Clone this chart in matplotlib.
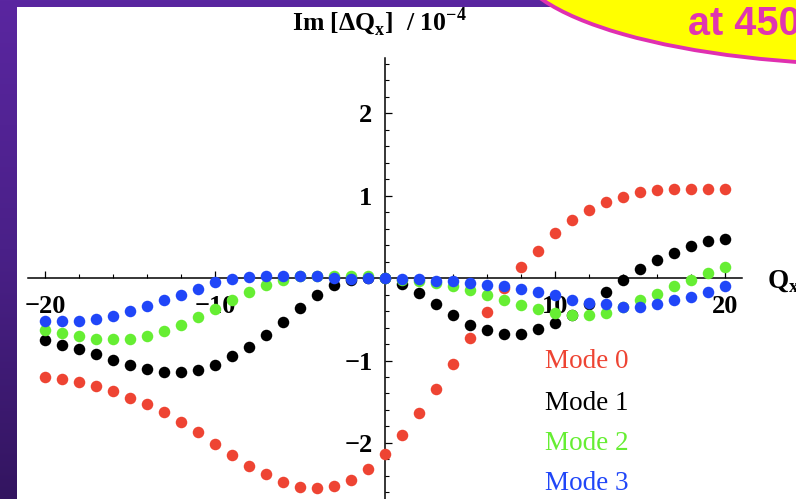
import numpy as np
import matplotlib
matplotlib.use("Agg")
import matplotlib.pyplot as plt
from matplotlib.patches import Rectangle, Ellipse
from matplotlib.colors import LinearSegmentedColormap
from matplotlib.ticker import MultipleLocator, FixedLocator

# ---- data ----
qx = list(range(-20, 21))
mode0 = [-1.20, -1.22, -1.26, -1.31, -1.37, -1.45, -1.53, -1.63, -1.75, -1.87, -2.01,
         -2.15, -2.28, -2.38, -2.47, -2.53, -2.55, -2.52, -2.45, -2.32, -2.13,
         -1.90, -1.64, -1.35, -1.04, -0.73, -0.41, -0.12, 0.13, 0.33, 0.55,
         0.70, 0.82, 0.92, 0.98, 1.04, 1.07, 1.08, 1.08, 1.08, 1.08]
mode1 = [-0.75, -0.81, -0.86, -0.92, -0.99, -1.05, -1.10, -1.14, -1.14, -1.11, -1.05,
         -0.95, -0.83, -0.69, -0.53, -0.36, -0.21, -0.08, -0.02, 0.00, 0.00,
         -0.07, -0.18, -0.32, -0.45, -0.57, -0.63, -0.68, -0.68, -0.62, -0.55,
         -0.45, -0.32, -0.17, -0.02, 0.11, 0.22, 0.30, 0.39, 0.45, 0.48]
mode2 = [-0.63, -0.67, -0.70, -0.74, -0.74, -0.74, -0.70, -0.64, -0.57, -0.47, -0.37,
         -0.27, -0.17, -0.08, -0.02, 0.02, 0.02, 0.03, 0.03, 0.02, 0.00,
         -0.02, -0.04, -0.06, -0.10, -0.14, -0.21, -0.26, -0.33, -0.38, -0.42,
         -0.45, -0.45, -0.42, -0.35, -0.27, -0.19, -0.09, -0.02, 0.06, 0.14]
mode3 = [-0.52, -0.52, -0.52, -0.50, -0.46, -0.40, -0.34, -0.27, -0.21, -0.13, -0.05,
         -0.01, 0.01, 0.02, 0.02, 0.02, 0.02, 0.00, -0.01, 0.00, 0.00,
         -0.01, -0.01, -0.03, -0.04, -0.06, -0.08, -0.10, -0.13, -0.17, -0.21,
         -0.27, -0.30, -0.31, -0.35, -0.35, -0.32, -0.27, -0.23, -0.17, -0.10]
series = [mode0, mode1, mode2, mode3]
labels = ["Mode 0", "Mode 1", "Mode 2", "Mode 3"]
colors = ["#EE4433", "#000000", "#66EE33", "#2046F8"]
xticks = [-20, -10, 10, 20]
yticks = [-2, -1, 1, 2]

W, H = 796, 499
fig = plt.figure(figsize=(W / 100, H / 100), dpi=100)
fig.patch.set_facecolor("white")

def fx(px):
    return px / W

def fy(py):  # py measured from top
    return (H - py) / H

# ---- background: purple gradient frame ----
bg = fig.add_axes([0, 0, 1, 1], zorder=-10)
cmap = LinearSegmentedColormap.from_list("pur", ["#5A26A0", "#4A2088", "#331560"])
grad = np.linspace(0, 1, 256).reshape(-1, 1)
bg.imshow(grad, aspect="auto", cmap=cmap, extent=[0, 1, 0, 1], origin="upper")
bg.set_xlim(0, 1)
bg.set_ylim(0, 1)
bg.axis("off")
bg.add_patch(Rectangle((fx(17), 0), 1 - fx(17), fy(7), facecolor="white",
                       edgecolor="none", transform=bg.transAxes))

# ---- main axes ----
ax = fig.add_axes([fx(28), 0, fx(742) - fx(28), fy(58)])
ax.patch.set_alpha(0)
ax.set_xlim(-21, 21)
ax.set_ylim(-2.68, 2.67)

for s in ["top", "right"]:
    ax.spines[s].set_visible(False)
ax.spines["left"].set_position(("data", 0))
ax.spines["bottom"].set_position(("data", 0))
for s in ["left", "bottom"]:
    ax.spines[s].set_linewidth(1.1)
    ax.spines[s].set_color("black")

ax.xaxis.set_major_locator(FixedLocator(xticks))
ax.xaxis.set_minor_locator(MultipleLocator(2))
ax.yaxis.set_major_locator(FixedLocator(yticks))
ax.yaxis.set_minor_locator(MultipleLocator(0.2))
ax.set_xticklabels(["\u2212" + str(abs(t)) if t < 0 else str(t) for t in xticks])
ax.set_yticklabels(["\u2212" + str(abs(t)) if t < 0 else str(t) for t in yticks])
ax.tick_params(axis="both", which="major", direction="in", length=5, width=0.9,
               labelsize=19)
ax.tick_params(axis="both", which="minor", direction="in", length=3.2, width=0.8)
ax.tick_params(axis="x", which="major", pad=12.5)
ax.tick_params(axis="y", which="major", pad=9)
for lab in ax.get_xticklabels() + ax.get_yticklabels():
    lab.set_family("Liberation Serif")
    lab.set_fontweight("bold")

for ys, c in zip(series, colors):
    ax.plot(qx, ys, linestyle="none", marker="o", markersize=8.3, color=c,
            markeredgewidth=0, zorder=3, clip_on=False)

# ---- texts ----
fig.text(fx(292), fy(30), "Im [\u0394Q$_\\mathregular{x}$]  / 10$^{\\mathregular{\u22124}}$",
         family="Liberation Serif", fontweight="bold", fontsize=18.5,
         ha="left", va="baseline")
fig.text(fx(767), fy(287), "Q$_\\mathregular{x}$", family="Liberation Serif",
         fontweight="bold", fontsize=19.5, ha="left", va="baseline")

leg_base = [368, 410, 450, 490]
for lab, c, b in zip(labels, colors, leg_base):
    fig.text(fx(545), fy(b), lab, family="Liberation Serif", fontsize=19.5,
             color=c, ha="left", va="baseline")

# ---- callout ----
ell = Ellipse((fx(885), fy(-40)), fx(740), 210 / H, transform=fig.transFigure,
              facecolor="#FFFF00", edgecolor="#E030B0", linewidth=2.8, zorder=5)
fig.patches.append(ell)
fig.text(fx(688), fy(35), "at 450", family="Liberation Sans", fontweight="bold",
         fontsize=28.5, color="#E035B0", ha="left", va="baseline", zorder=6)

fig.savefig("out.png", dpi=100)
